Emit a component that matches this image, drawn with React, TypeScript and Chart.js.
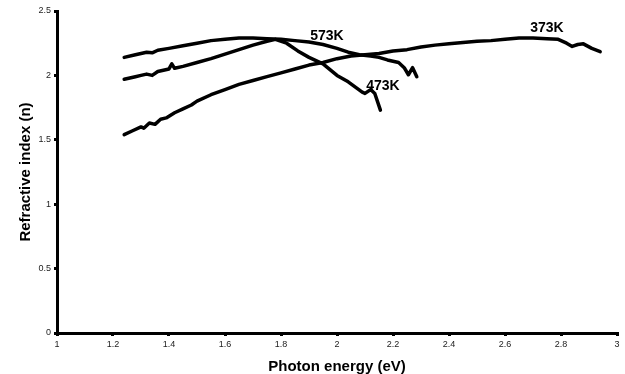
import React, { useEffect, useRef } from "react";
import { Chart, registerables } from "chart.js";

Chart.register(...registerables);

// Photon energy (eV) and refractive index (n) for each annealing temperature
const energy373 = [1.24, 1.27, 1.3, 1.31, 1.33, 1.35, 1.37, 1.39, 1.42, 1.45, 1.48, 1.5, 1.55, 1.6, 1.65, 1.7, 1.75, 1.8, 1.85, 1.9, 1.95, 2.0, 2.05, 2.1, 2.15, 2.2, 2.25, 2.3, 2.35, 2.4, 2.45, 2.5, 2.55, 2.6, 2.65, 2.7, 2.75, 2.79, 2.82, 2.84, 2.86, 2.88, 2.91, 2.94];
const n373 = [1.54, 1.57, 1.6, 1.59, 1.63, 1.62, 1.66, 1.67, 1.71, 1.74, 1.77, 1.8, 1.85, 1.89, 1.93, 1.96, 1.99, 2.02, 2.05, 2.08, 2.1, 2.13, 2.15, 2.16, 2.17, 2.19, 2.2, 2.22, 2.235, 2.245, 2.255, 2.265, 2.27, 2.28, 2.29, 2.29, 2.285, 2.28, 2.25, 2.225, 2.24, 2.245, 2.21, 2.185];

const energy473 = [1.24, 1.28, 1.3, 1.32, 1.34, 1.36, 1.38, 1.4, 1.41, 1.42, 1.45, 1.5, 1.55, 1.6, 1.65, 1.7, 1.75, 1.78, 1.82, 1.86, 1.9, 1.95, 2.0, 2.04, 2.09, 2.1, 2.12, 2.135, 2.155];
const n473 = [1.97, 1.99, 2.0, 2.01, 2.0, 2.03, 2.04, 2.05, 2.09, 2.055, 2.07, 2.1, 2.13, 2.165, 2.2, 2.235, 2.265, 2.28, 2.25, 2.19, 2.14, 2.09, 2.0, 1.95, 1.87, 1.86, 1.89, 1.86, 1.73];

const energy573 = [1.24, 1.28, 1.32, 1.34, 1.36, 1.4, 1.45, 1.5, 1.55, 1.6, 1.65, 1.7, 1.75, 1.8, 1.85, 1.9, 1.95, 2.0, 2.04, 2.08, 2.12, 2.15, 2.18, 2.22, 2.24, 2.255, 2.27, 2.285];
const n573 = [2.14, 2.16, 2.18, 2.175, 2.195, 2.21, 2.23, 2.25, 2.27, 2.28, 2.29, 2.29, 2.285, 2.28, 2.27, 2.26, 2.24, 2.21, 2.18, 2.16, 2.15, 2.14, 2.12, 2.1, 2.06, 2.005, 2.06, 1.99];

// Curve labels
const labelTexts = ["573K", "473K", "373K"];
const labelX = [1.964, 2.164, 2.75];
const labelY = [2.306, 1.918, 2.368];

const FONT = "'Liberation Sans', Arial, sans-serif";

const toPoints = (xs: number[], ys: number[]) => xs.map((x, i) => ({ x, y: ys[i] }));

const labelPlugin = {
  id: "curveLabels",
  afterDatasetsDraw(chart: any) {
    const { ctx, scales } = chart;
    ctx.save();
    ctx.fillStyle = "#000";
    ctx.font = `bold 14px ${FONT}`;
    ctx.textAlign = "center";
    ctx.textBaseline = "middle";
    labelTexts.forEach((t, i) => {
      ctx.fillText(t, scales.x.getPixelForValue(labelX[i]), scales.y.getPixelForValue(labelY[i]));
    });
    ctx.restore();
  },
};

const fmt = (v: any) => String(Number(Number(v).toFixed(1)));

export default function App() {
  const ref = useRef<HTMLCanvasElement | null>(null);
  useEffect(() => {
    if (!ref.current) return;
    const lineStyle = {
      borderColor: "#000",
      backgroundColor: "#000",
      borderWidth: 3.5,
      pointRadius: 0,
      showLine: true,
      tension: 0,
      borderCapStyle: "round" as const,
      borderJoinStyle: "round" as const,
      fill: false,
    };
    const chart = new Chart(ref.current, {
      type: "scatter",
      data: {
        datasets: [
          { label: "373K", data: toPoints(energy373, n373), ...lineStyle },
          { label: "473K", data: toPoints(energy473, n473), ...lineStyle },
          { label: "573K", data: toPoints(energy573, n573), ...lineStyle },
        ],
      },
      options: {
        animation: false,
        responsive: false,
        layout: { padding: { left: 0, right: 8, top: 11, bottom: 0 } },
        plugins: { legend: { display: false }, tooltip: { enabled: false } },
        scales: {
          x: {
            type: "linear",
            min: 1,
            max: 3,
            afterFit: (s: any) => { s.height = 41; },
            ticks: { stepSize: 0.2, callback: fmt, color: "#222", font: { family: FONT, size: 9 }, padding: 3, maxRotation: 0, autoSkip: false },
            grid: { drawOnChartArea: false, drawTicks: true, tickLength: 3, color: "#000", lineWidth: 3 },
            border: { display: true, color: "#000", width: 3 },
            title: { display: true, text: "Photon energy (eV)", color: "#000", font: { family: FONT, size: 15, weight: "bold" }, padding: { top: 0, bottom: -2 } },
          },
          y: {
            type: "linear",
            min: 0,
            max: 2.5,
            afterFit: (s: any) => { s.width = 57; },
            ticks: { stepSize: 0.5, callback: fmt, color: "#222", font: { family: FONT, size: 9 }, padding: 3 },
            grid: { drawOnChartArea: false, drawTicks: true, tickLength: 3, color: "#000", lineWidth: 3 },
            border: { display: true, color: "#000", width: 3 },
            title: { display: true, text: "Refractive index (n)", color: "#000", font: { family: FONT, size: 15, weight: "bold" }, padding: { top: 17, bottom: 0 } },
          },
        },
      },
      plugins: [labelPlugin],
    });
    return () => chart.destroy();
  }, []);
  return (
    <div style={{ position: "fixed", left: 0, top: 0, width: 625, height: 374, background: "#fff" }}>
      <canvas ref={ref} width={625} height={374} style={{ display: "block", width: 625, height: 374 }} />
    </div>
  );
}
